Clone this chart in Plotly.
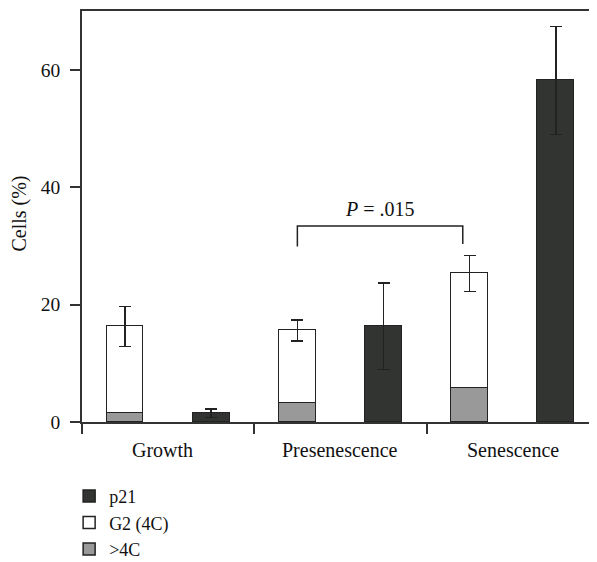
import plotly.graph_objects as go

# ---- data ----
categories = ["Growth", "Presenescence", "Senescence"]
above4c = [1.5, 3.3, 5.8]            # >4C (bottom segment)
g2_total = [16.3, 15.6, 25.3]        # top of stacked bar (G2 + >4C)
g2_err = [3.4, 1.8, 3.05]
p21 = [1.5, 16.3, 58.2]
p21_err = [0.7, 7.4, 9.2]
y_ticks = [0, 20, 40, 60]
p_label = "<i>P</i> = .015"
p_pair = (1, 2)                      # groups compared (G2 bars)
p_bracket_y = 33.4

g2_only = [t - a for t, a in zip(g2_total, above4c)]

FONT = "Liberation Serif"
DARK = "#323432"
GRAY = "#999999"
LINE = "#222222"

n = len(categories)
x_stack = [i + 0.25 for i in range(n)]
x_p21 = [i + 0.75 for i in range(n)]
bw = 0.213

fig = go.Figure()
fig.add_trace(go.Bar(
    x=x_stack, y=above4c, width=bw, name=">4C",
    marker=dict(color=GRAY, line=dict(color=LINE, width=1.5)),
))
fig.add_trace(go.Bar(
    x=x_stack, y=g2_only, width=bw, name="G2 (4C)",
    marker=dict(color="white", line=dict(color=LINE, width=1.5)),
    error_y=dict(type="data", array=g2_err, color=LINE, thickness=1.5, width=6),
))
fig.add_trace(go.Bar(
    x=x_p21, y=p21, width=bw, name="p21",
    marker=dict(color=DARK, line=dict(color=LINE, width=1.5)),
    error_y=dict(type="data", array=p21_err, color=LINE, thickness=1.5, width=6),
))

# significance bracket
xl = p_pair[0] + 0.25
xr = p_pair[1] + 0.21
leg = 3.5
fig.add_shape(type="path", xref="x", yref="y",
              path=f"M {xl},{p_bracket_y - leg} L {xl},{p_bracket_y} L {xr},{p_bracket_y} L {xr},{p_bracket_y - leg + 0.4}",
              line=dict(color=LINE, width=1.5))
fig.add_annotation(x=(xl + xr) / 2, y=p_bracket_y, text=p_label, showarrow=False,
                   yanchor="bottom", yshift=4, font=dict(family=FONT, size=20, color="#111"))

# category labels
label_xshift = [-6, 0, 0]
for i, c in enumerate(categories):
    fig.add_annotation(x=i + 0.5, y=0, xref="x", yref="y", text=c, showarrow=False,
                       yanchor="middle", yshift=-28, xshift=label_xshift[i],
                       font=dict(family=FONT, size=20, color="#111"))

# y-axis title as rotated annotation
fig.add_annotation(x=0, xref="paper", xanchor="center", xshift=-62,
                   y=35.5, yref="y", yanchor="middle", showarrow=False,
                   text="Cells (%)", textangle=-90,
                   font=dict(family=FONT, size=20, color="#111"))

# page body has an 8px margin, so the figure is sized to fill the rest of the window
fig.update_layout(
    width=589, height=554,
    margin=dict(l=74, r=0, t=3, b=140, autoexpand=False),
    paper_bgcolor="white", plot_bgcolor="white",
    barmode="stack", bargap=0,
    font=dict(family=FONT, size=19, color="#111"),
    showlegend=True,
    legend=dict(x=-0.025, xanchor="left", y=-0.136, yanchor="top",
                orientation="v", traceorder="reversed",
                font=dict(family=FONT, size=18, color="#111"),
                bgcolor="rgba(0,0,0,0)", tracegroupgap=0),
    xaxis=dict(range=[0, 2.989], tickvals=list(range(n)), ticktext=[""] * n,
               ticks="outside", ticklen=10, tickwidth=1.5, tickcolor="#333",
               showline=True, linecolor="#333", linewidth=1.5, mirror=True,
               showgrid=False, zeroline=False, automargin=False),
    yaxis=dict(range=[0, 70], tickvals=y_ticks, ticks="outside", ticklen=10,
               tickwidth=1.5, tickcolor="#333", showline=True, linecolor="#333",
               linewidth=1.5, showgrid=False, zeroline=False, ticklabelstandoff=6,
               automargin=False,
               tickfont=dict(family=FONT, size=19.5, color="#111")),
)

fig.write_html("out.html")
